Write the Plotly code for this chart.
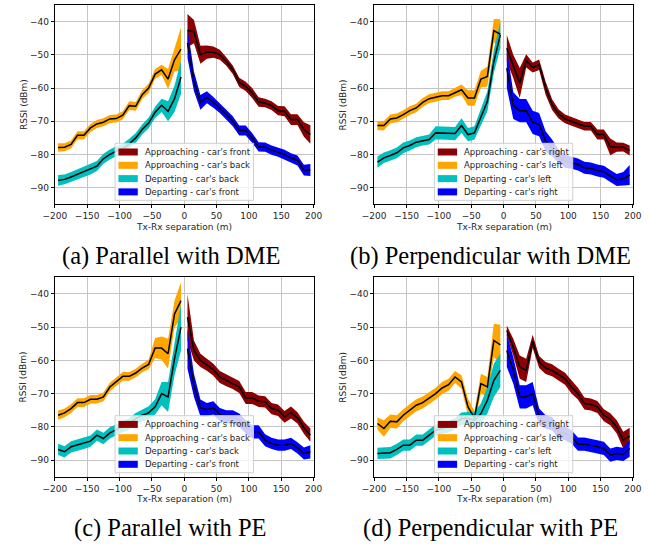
import plotly.graph_objects as go

# ---------------- data ----------------
x_neg = [-195, -185, -175, -165, -155, -145, -135, -125, -115, -105,
         -95, -85, -75, -65, -55, -45, -35, -25, -15, -5]
x_pos = [5, 15, 25, 35, 45, 55, 65, 75, 85, 95,
         105, 115, 125, 135, 145, 155, 165, 175, 185, 195]

x_ticks = [-200, -150, -100, -50, 0, 50, 100, 150, 200]
y_ticks = [-90, -80, -70, -60, -50, -40]

series_colors = ["#8b0000", "#ffa500", "#00bfbf", "#0000ff"]

# (a) Parallel with DME
a_names = ["Approaching - car's front", "Approaching - car's back",
           "Departing - car's back", "Departing - car's front"]
a_dr = [-42.7, -43, -50, -49.2, -49.2, -50, -52, -54.5, -58.3, -59.5,
        -61.5, -64.2, -64.5, -65.3, -66.8, -67, -69.5, -69.5, -72.5, -74]
a_dr_hw = [5, 3.5, 2.7, 2, 1.7, 1.5, 1.3, 1.3, 1.4, 1.4,
           1.5, 1.4, 1.3, 1.3, 1.4, 1.5, 1.6, 1.6, 2.2, 2.8]
a_or = [-77.9, -77.8, -77, -74.2, -74.2, -72, -70.8, -70.3, -69.3, -69.2,
        -68.2, -65.3, -65.5, -62, -60, -55.8, -54.5, -57.3, -51.5, -48.3]
a_or_hw = [1.3, 1.2, 1.2, 1.2, 1.2, 1.2, 1.2, 1.2, 1.2, 1.2,
           1.2, 1.3, 1.3, 1.3, 1.4, 1.5, 1.5, 3, 3.5, 6.5]
a_cy = [-87.8, -87.5, -86.8, -86, -85.3, -84.5, -83.5, -81.3, -80, -79,
        -78.3, -76.8, -75, -72.5, -70.5, -67.3, -65.2, -67, -63.2, -56.7]
a_cy_hw = [1.6, 1.5, 1.5, 1.5, 1.5, 1.5, 1.5, 1.5, 1.5, 1.5,
           1.5, 1.5, 1.5, 1.5, 1.6, 1.7, 2, 3, 4, 5]
a_bl = [-46.5, -58, -64.3, -62.8, -64.3, -66, -68, -70, -72.8, -72.8,
        -75, -77.7, -77.8, -78.7, -79.3, -80, -81, -81.8, -84.7, -84.7]
a_bl_hw = [4.5, 3, 2.2, 1.8, 1.6, 1.5, 1.5, 1.5, 1.5, 1.5,
           1.5, 1.4, 1.4, 1.4, 1.4, 1.4, 1.4, 1.5, 1.6, 1.8]

# (b) Perpendicular with DME
b_names = ["Approaching - car's right", "Approaching - car's left",
           "Departing - car's left", "Departing - car's right"]
b_dr = [-48, -53.5, -58.5, -51.8, -53.8, -53, -60, -65, -67.8, -69.3,
        -70, -70.7, -71.5, -71.5, -74, -74, -77.7, -77.8, -77.8, -78.8]
b_dr_hw = [4, 3.5, 4.5, 2, 1.5, 1.6, 2, 1.6, 1.4, 1.3,
           1.3, 1.3, 1.3, 1.3, 1.5, 1.5, 2.5, 1.4, 1.3, 1.5]
b_or = [-71.3, -71.3, -69.3, -69, -68, -66.8, -66, -64.3, -63.2, -62.8,
        -62.3, -62.3, -61.3, -60.5, -63, -63, -57.3, -56.5, -42.7, -43.8]
b_or_hw = [1.4, 1.4, 1.3, 1.3, 1.3, 1.3, 1.3, 1.3, 1.3, 1.3,
           1.3, 1.3, 1.3, 1.6, 2.3, 2.3, 2.5, 3, 3.5, 4.5]
b_cy = [-82.3, -81, -80.3, -79.5, -78, -77.3, -76.3, -75.8, -75.5, -73.5,
        -73.5, -73.5, -73.7, -71.3, -74, -73.5, -69, -64, -52, -44]
b_cy_hw = [1.7, 1.6, 1.6, 1.6, 1.6, 1.5, 1.5, 1.5, 1.5, 2,
           2, 2, 2, 2.2, 2, 2, 2.5, 3, 3.5, 4]
b_bl = [-54, -65.3, -66.8, -66.8, -70.3, -71, -76, -78, -80.5, -82,
        -82.5, -83, -84, -84.2, -84.8, -85.2, -86.5, -87.7, -87.3, -86.2]
b_bl_hw = [6, 4, 3.5, 3.5, 3.5, 3.5, 3, 2.5, 2, 2,
           1.8, 1.8, 1.8, 1.8, 1.8, 1.8, 1.8, 1.8, 2, 3]

# (c) Parallel with PE
c_names = a_names
c_dr = [-47, -57, -60, -61.3, -62.8, -65, -66, -66.8, -68, -71.3,
        -71.3, -72.3, -72.5, -74.5, -75, -77, -75.7, -77.3, -80.3, -82.5]
c_dr_hw = [7, 3, 2, 1.8, 1.8, 1.8, 1.8, 1.8, 1.8, 1.8,
           1.8, 1.7, 1.7, 1.7, 1.7, 1.8, 1.8, 1.7, 1.8, 2]
c_or = [-76.5, -75.8, -74.5, -72.7, -72.7, -71.7, -71.7, -71, -68, -66.3,
        -64.8, -64.8, -63.8, -62.3, -61.2, -56.3, -56.3, -58, -46, -42]
c_or_hw = [1.4, 1.3, 1.3, 1.3, 1.3, 1.3, 1.3, 1.3, 1.3, 1.3,
           1.3, 1.3, 1.3, 1.3, 1.5, 3, 3.5, 4.5, 4, 5.5]
c_cy = [-86.8, -87.5, -86, -85.5, -85, -84.3, -82.5, -83.5, -81.8, -80.8,
        -79.8, -79, -77.5, -76.5, -75.8, -74, -70, -71, -59.5, -50]
c_cy_hw = [1.7, 1.7, 1.7, 1.7, 1.7, 1.7, 1.7, 1.7, 1.7, 1.7,
           1.7, 1.7, 1.7, 1.8, 2, 2.3, 3.5, 4.5, 5, 7]
c_bl = [-56.5, -67.5, -74.3, -74.8, -74.3, -76.3, -77, -77, -78, -80,
        -81.5, -81.5, -84, -85, -85.5, -85.5, -85, -86.3, -88, -87.5]
c_bl_hw = [6, 3.5, 2.5, 2, 2, 2, 2, 2, 2, 2,
           2, 2, 1.8, 1.7, 1.7, 1.7, 1.7, 1.7, 1.8, 2]

# (d) Perpendicular with PE
d_names = b_names
d_dr = [-51, -56, -62, -63, -54.3, -60.5, -62.3, -63, -64.3, -65.5,
        -68, -70, -73, -73.3, -74, -76.5, -77.7, -80, -84, -82.8]
d_dr_hw = [1.5, 2.5, 3.5, 3.5, 2, 1.8, 1.8, 1.8, 1.8, 1.8,
           2, 1.8, 1.8, 1.8, 1.8, 1.8, 1.8, 2, 2.5, 2.5]
d_or = [-79, -80.5, -78.3, -78.5, -76.5, -75, -73.5, -72.7, -71.3, -70,
        -68.3, -67.3, -65, -66.5, -74, -77.3, -67, -68, -54, -55.3]
d_or_hw = [1.8, 2.5, 2, 2, 1.8, 1.8, 1.8, 1.8, 1.8, 1.8,
           1.8, 1.8, 1.8, 2, 2.5, 2, 3, 3, 5, 6]
d_cy = [-88, -87.8, -87.8, -86.8, -85.5, -85.5, -84, -84, -82.5, -81,
        -80.5, -80, -79, -77.5, -77.5, -78, -76, -72, -66, -63]
d_cy_hw = [1.7, 1.7, 1.7, 1.7, 1.7, 1.7, 1.7, 1.7, 1.7, 1.7,
           1.7, 1.7, 1.7, 1.8, 2, 2.5, 3, 4, 5, 5]
d_bl = [-57, -63, -71, -71, -70, -77, -78.5, -79, -81.5, -82,
        -83, -85.2, -85.2, -85.5, -86, -86.5, -88.5, -88, -88.3, -86.5]
d_bl_hw = [5, 4, 3.5, 3.5, 3.5, 2.5, 2, 2, 2, 2,
           2, 2, 2, 2, 2, 2, 2, 2, 2, 2.5]

captions = ["(a) Parallel with DME", "(b) Perpendicular with DME",
            "(c) Parallel with PE", "(d) Perpendicular with PE"]

# --------------- layout geometry (pixels) ---------------
W, H = 649, 544
def px(x):
    return x / W
def py(y):
    return 1 - y / H

cols = [(44.3, 311.7), (374.3, 641.7)]
rows = [(5.0, 204.3), (277.3, 476.7)]

panels = [
    dict(names=a_names, x=[x_pos, x_neg, x_neg, x_pos],
         y=[a_dr, a_or, a_cy, a_bl], hw=[a_dr_hw, a_or_hw, a_cy_hw, a_bl_hw]),
    dict(names=b_names, x=[x_pos, x_neg, x_neg, x_pos],
         y=[b_dr, b_or, b_cy, b_bl], hw=[b_dr_hw, b_or_hw, b_cy_hw, b_bl_hw]),
    dict(names=c_names, x=[x_pos, x_neg, x_neg, x_pos],
         y=[c_dr, c_or, c_cy, c_bl], hw=[c_dr_hw, c_or_hw, c_cy_hw, c_bl_hw]),
    dict(names=d_names, x=[x_pos, x_neg, x_neg, x_pos],
         y=[d_dr, d_or, d_cy, d_bl], hw=[d_dr_hw, d_or_hw, d_cy_hw, d_bl_hw]),
]

fig = go.Figure()
shapes = []
annotations = []
FONT = "DejaVu Sans"

for i, p in enumerate(panels):
    ci, ri = i % 2, i // 2
    x0, x1 = cols[ci]
    y0, y1 = rows[ri]
    sfx = "" if i == 0 else str(i + 1)
    xa, ya = "x" + sfx, "y" + sfx

    # bands
    for k in range(4):
        xs = p["x"][k]
        ys = p["y"][k]
        hw = p["hw"][k]
        up = [v + h for v, h in zip(ys, hw)]
        lo = [v - h for v, h in zip(ys, hw)]
        fig.add_trace(go.Scatter(
            x=xs + xs[::-1], y=up + lo[::-1], fill="toself",
            fillcolor=series_colors[k], line=dict(width=0),
            mode="lines", hoverinfo="skip", showlegend=False,
            xaxis=xa, yaxis=ya))
    # mean lines
    for k in range(4):
        fig.add_trace(go.Scatter(
            x=p["x"][k], y=p["y"][k], mode="lines",
            line=dict(color="black", width=1.5), showlegend=False,
            xaxis=xa, yaxis=ya))

    axis_common = dict(
        showline=True, linecolor="black", linewidth=1, mirror=True,
        ticks="outside", ticklen=3, tickwidth=1, tickcolor="black",
        showgrid=True, gridcolor="#c4c4c4", gridwidth=1.2, zeroline=False,
        tickfont=dict(family=FONT, size=9, color="#262626"),
    )
    fig.update_layout(**{
        "xaxis" + sfx: dict(axis_common, domain=[px(x0), px(x1)],
                            anchor=ya, range=[-200, 200],
                            tickmode="array", tickvals=x_ticks),
        "yaxis" + sfx: dict(axis_common, domain=[py(y1), py(y0)],
                            anchor=xa, range=[-95, -35],
                            tickmode="array", tickvals=y_ticks),
    })

    # axis titles
    annotations.append(dict(
        text="Tx-Rx separation (m)", x=px((x0 + x1) / 2), y=py(y1 + 22.5),
        xref="paper", yref="paper", showarrow=False,
        xanchor="center", yanchor="middle",
        font=dict(family=FONT, size=9, color="#262626")))
    annotations.append(dict(
        text="RSSI (dBm)", x=px(x0 - 32.5), y=py((y0 + y1) / 2),
        xref="paper", yref="paper", showarrow=False, textangle=-90,
        xanchor="center", yanchor="middle",
        font=dict(family=FONT, size=9, color="#262626")))

    # custom legend (matplotlib style, lower center)
    bw, bh = 143, 57
    bx0 = (x0 + x1) / 2 - bw / 2
    by1 = y1 - 4
    by0 = by1 - bh
    shapes.append(dict(type="rect", xref="paper", yref="paper",
                       x0=px(bx0), x1=px(bx0 + bw), y0=py(by1), y1=py(by0),
                       fillcolor="rgba(255,255,255,0.8)",
                       line=dict(color="#d0d0d0", width=1), layer="above"))
    for k in range(4):
        cy = by0 + 8.7 + 13.3 * k
        shapes.append(dict(type="rect", xref="paper", yref="paper",
                           x0=px(bx0 + 3.5), x1=px(bx0 + 23.5),
                           y0=py(cy + 3.5), y1=py(cy - 3.5),
                           fillcolor=series_colors[k], line=dict(width=0),
                           layer="above"))
        annotations.append(dict(
            text=p["names"][k], x=px(bx0 + 29), y=py(cy),
            xref="paper", yref="paper", showarrow=False,
            xanchor="left", yanchor="middle",
            font=dict(family=FONT, size=8.5, color="#262626")))

    # caption
    annotations.append(dict(
        text=captions[i], x=px(164 if ci == 0 else 494.5),
        y=py(256 if ri == 0 else 528),
        xref="paper", yref="paper", showarrow=False,
        xanchor="center", yanchor="middle",
        font=dict(family="Liberation Serif", size=24.5, color="black")))

fig.update_layout(
    width=W, height=H, margin=dict(l=0, r=0, t=0, b=0),
    paper_bgcolor="white", plot_bgcolor="white",
    showlegend=False, shapes=shapes, annotations=annotations,
)

fig.write_html("out.html")
